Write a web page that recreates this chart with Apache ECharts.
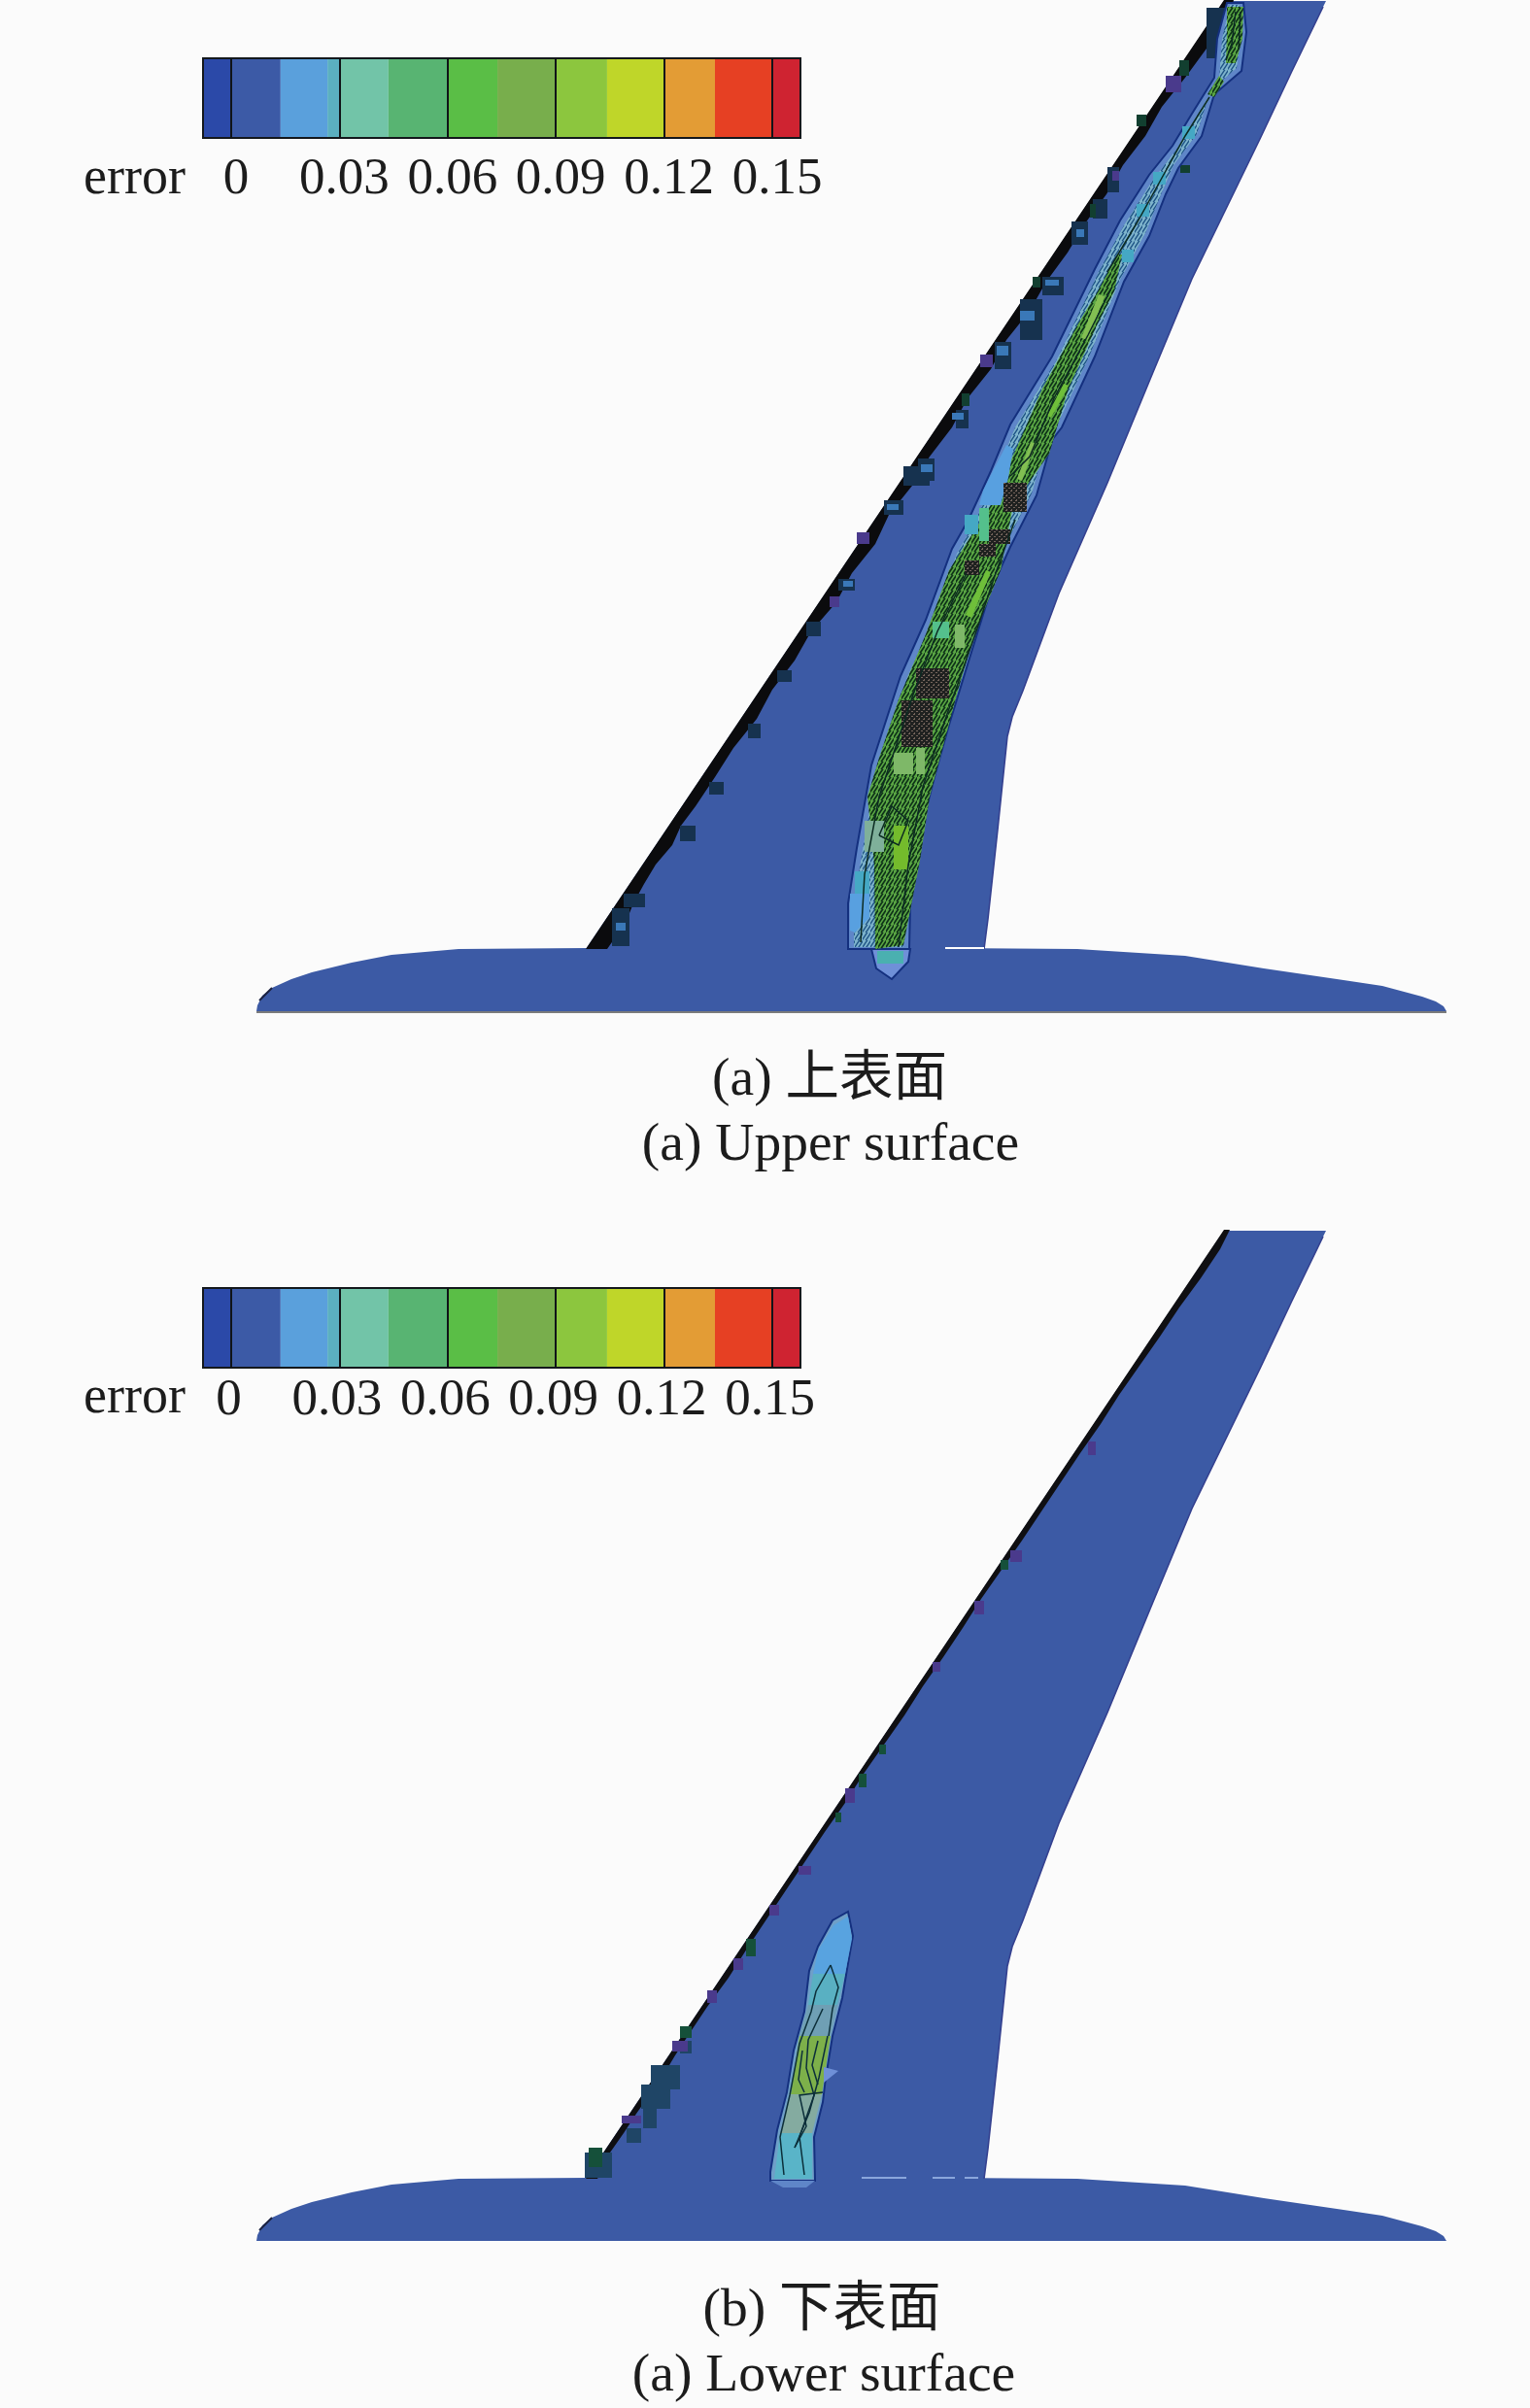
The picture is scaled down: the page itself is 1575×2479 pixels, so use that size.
<!DOCTYPE html>
<html><head><meta charset="utf-8">
<style>html,body{margin:0;padding:0;background:#fbfbfb}#c{width:1575px;height:2479px}</style>
<script src="https://cdn.jsdelivr.net/npm/echarts@6/dist/echarts.min.js"></script>
</head><body><div id="c"></div>
<script>
// ---------- colour bar data (error values) ----------
const errorTicks = [0, 0.03, 0.06, 0.09, 0.12, 0.15];
const bandEdges = [-0.0078, 0, 0.0137, 0.0267, 0.03, 0.0436, 0.06, 0.0738, 0.09, 0.1042, 0.12, 0.1341, 0.15, 0.1578];
const bandColors = ['#2b49a8','#3c5aa6','#5aa0dc','#5bafc0','#72c4a8','#58b472','#5abe46','#78ae4c','#8cc63e','#bfd629','#e39c35','#e64023','#cf2331'];
const captions = [['(a) 上表面', 854, 1116], ['(a) Upper surface', 855, 1183], ['(b) 下表面', 846, 2383], ['(a) Lower surface', 848, 2450]];

// ---------- planform outline (panel units: x chordwise, y down from wing tip) ----------
const fuselage = [[264,1041],[265,1035],[270,1025],[280,1017],[300,1008],[321,1001],[362,991],[403,983],[472,977],[603,976],[975,976],[1109,977],[1220,984],[1301,997],[1383,1009],[1423,1015],[1464,1026],[1478,1031],[1486,1036],[1489,1041]];
const wing = [[603,977],[1260,1],[1365,1],[1362,7],[1330,73],[1297,143],[1263,213],[1227,287],[1187,383],[1140,497],[1090,611],[1053,711],[1042,738],[1037,758],[1027,854],[1017,946],[1013,977]];
const trailingEdge = [[1362,7],[1330,73],[1297,143],[1263,213],[1227,287],[1187,383],[1140,497],[1090,611],[1053,711],[1042,738],[1037,758],[1027,854],[1017,946],[1013,977]];
const fuselageNoseEdge = [[267,1030],[280,1017]];

// ---------- leading edge error strips ----------
const upperLeStrip = [[603,977],[1260,0],[1270,0],[1264,20],[1242,50],[1220,80],[1196,110],[1179,140],[1156,170],[1139,200],[1117,230],[1099,260],[1077,290],[1060,320],[1036,350],[1020,380],[996,410],[980,440],[957,470],[939,500],[915,530],[901,560],[877,590],[861,620],[835,650],[818,680],[795,710],[779,740],[755,770],[736,800],[716,830],[701,850],[692,870],[675,890],[663,910],[652,930],[644,950],[625,977]];
const lowerLeStrip = [[603,977],[1260,0],[1266,0],[1256,20],[1236,50],[1214,80],[1194,110],[1173,140],[1152,170],[1133,200],[1112,230],[1092,260],[1072,290],[1052,320],[1031,350],[1010,380],[991,410],[971,440],[950,470],[931,500],[910,530],[889,560],[870,590],[849,620],[829,650],[809,680],[789,710],[769,740],[750,770],[728,800],[708,830],[695,850],[683,870],[669,890],[655,910],[642,930],[628,950],[615,977]];
const upperLeDarkBoxes = [[1242,8,1272,60],[1140,172,1152,198],[1125,205,1140,225],[1103,228,1120,252],[1073,285,1095,304],[1050,308,1073,350],[1024,352,1041,380],[984,422,997,441],[945,472,962,495],[930,480,957,500],[910,515,930,530],[863,596,880,608],[830,640,845,655],[800,690,815,702],[770,745,783,760],[730,805,745,818],[700,850,716,866],[630,935,648,974],[642,920,664,934]];
const upperLeSpecks = [[1076,288,1090,294],[1050,320,1065,330],[1026,356,1038,366],[980,425,992,432],[948,478,960,486],[868,598,878,604],[1108,236,1116,244],[634,950,644,958],[913,519,925,525]];
const upperLePurpleBoxes = [[1200,78,1216,95],[1009,365,1022,378],[882,548,895,560],[854,614,864,625],[1145,176,1152,186]];
const upperLeGreenBoxes = [[1214,62,1224,78],[1122,210,1128,224],[1063,285,1071,296],[1170,118,1180,130],[1215,170,1225,178],[990,405,998,418]];
const lowerLeTealBoxes = [[602,950,630,976],[660,880,690,905],[670,860,700,885],[662,905,676,925],[645,925,660,940],[700,835,712,848]];
const lowerLePurpleBoxes = [[640,912,660,920],[692,835,708,846],[728,783,738,796],[822,655,835,664],[870,575,880,590],[1003,382,1013,396],[1040,330,1052,342],[1120,218,1128,232],[755,750,765,762],[960,445,968,455],[792,695,802,706]];
const lowerLeGreenBoxes = [[606,945,620,965],[700,820,712,832],[768,730,778,748],[884,560,892,574],[1030,340,1038,350],[905,530,912,540],[860,600,866,610]];

// ---------- upper surface error contour ----------
const upperOuter = [[873,977],[873,930],[882,873],[897,788],[927,696],[953,638],[980,565],[997,535],[1020,485],[1040,437],[1083,367],[1127,277],[1153,227],[1183,180],[1207,150],[1227,117],[1250,80],[1253,40],[1263,3],[1280,3],[1283,33],[1278,73],[1250,97],[1237,140],[1213,173],[1200,200],[1183,243],[1157,290],[1127,367],[1093,440],[1083,453],[1067,510],[1040,563],[1020,607],[997,681],[977,746],[963,796],[948,854],[937,930],[936,977]];
const upperNub = [[897,977],[902,997],[918,1008],[935,990],[937,977]];
const upperMid = [[879,975],[879,930],[888,875],[903,790],[933,700],[958,642],[985,570],[1002,540],[1025,490],[1045,440],[1088,370],[1131,280],[1157,232],[1187,185],[1211,154],[1231,121],[1255,82],[1258,40],[1266,5],[1276,5],[1278,33],[1273,70],[1246,93],[1232,138],[1208,170],[1196,198],[1179,240],[1153,288],[1122,365],[1088,438],[1078,452],[1062,508],[1035,561],[1015,604],[992,678],[972,743],[958,793],[943,851],[932,930],[930,975]];
const upperGreen = [[901,977],[900,890],[893,820],[905,780],[925,720],[953,653],[977,587],[1020,520],[1050,453],[1073,400],[1110,333],[1130,300],[1150,262],[1155,262],[1147,300],[1130,333],[1100,400],[1080,467],[1043,520],[1030,587],[1003,653],[985,715],[957,820],[947,886],[930,973]];
const upperTipGreen = [[1263,7],[1280,7],[1279,40],[1272,65],[1262,65],[1263,30]];
const upperTipNeck = [[1243,97],[1255,78],[1260,84],[1250,100]];
const upperCore1 = [[1131,303],[1137,305],[1120,350],[1113,348]];
const upperCore2 = [[1061,455],[1066,457],[1052,495],[1047,493]];
const upperCore3 = [[1015,587],[1020,589],[1000,636],[994,633]];
const upperCore4 = [[1095,395],[1100,397],[1082,430],[1078,428]];
const upperLightBlue = [[1036,458],[1043,462],[1038,492],[1030,520],[1008,520],[1012,505],[1022,485]];
const upperLowerBlue = [[875,920],[895,920],[895,945],[880,960],[875,958]];
const upperNubFill = [[899,979],[904,995],[918,1005],[932,990],[934,979]];
const darkBoxes = [[1033,497,1057,527],[1018,545,1040,560],[1008,560,1025,573],[993,577,1008,592],[943,688,977,719],[928,721,960,769]];
const tealBoxes = [[1217,130,1230,143],[1187,177,1200,190],[1170,210,1183,223],[1155,257,1167,270],[993,530,1007,550],[880,897,895,920]];
const mintBoxes = [[1008,523,1018,557],[960,640,977,657]];
const paleGreenBoxes = [[983,643,993,667],[920,775,940,797],[943,770,952,797]];
const brightGreenBoxes = [[920,850,935,895]];
const greyGreenBoxes = [[890,845,910,877]];
const nubTealBoxes = [[903,979,930,992]];
const upperContours = [
  [[886,970],[890,900],[905,820],[925,760],[940,715],[965,650],[995,590]],
  [[925,975],[935,890],[950,810],[975,735],[1005,650],[1025,590],[1045,535]],
  [[905,860],[918,830],[935,845],[925,870],[905,860]],
  [[1040,490],[1060,470],[1085,410],[1120,345],[1145,295]],
  [[1272,12],[1268,45],[1262,62]],[[1277,12],[1275,50]],
  [[1245,100],[1220,140],[1195,185],[1170,230],[1140,280]]
];

// ---------- lower surface error contour ----------
const lowerOuter = [[793,979],[793,970],[800,927],[810,888],[817,845],[828,805],[833,763],[842,738],[857,711],[873,702],[878,727],[873,755],[867,791],[857,830],[850,873],[847,898],[838,934],[839,979]];
const lowerBlue = [[837,766],[842,742],[858,716],[873,707],[877,730],[870,766]];
const lowerTealUp = [[832,798],[837,766],[870,766],[862,798]];
const lowerGrey = [[823,830],[832,798],[862,798],[855,830]];
const lowerGreen = [[814,890],[823,830],[855,830],[846,890]];
const lowerMix = [[803,930],[814,890],[846,890],[836,930]];
const lowerTeal = [[797,977],[803,930],[836,930],[836,977]];
const lowerBump = [[848,862],[863,866],[848,878]];
const lowerFoot = [[793,979],[839,979],[830,986],[806,986]];
const lowerContours = [
  [[855,757],[840,784],[835,805],[823,838],[813,891],[803,934],[807,973]],
  [[855,757],[863,780],[857,802],[853,830]],
  [[847,802],[832,834],[830,863],[838,891],[823,934],[828,973]],
  [[818,945],[833,909],[843,873],[852,830]],
  [[847,888],[823,891],[830,923],[818,945]],
  [[842,835],[836,860],[842,880]],
  [[826,845],[822,875],[828,888]]
];
const rootSlitUpper = [[973,976],[1013,976]];
const rootSlitLower1 = [[887,976],[933,976]];
const rootSlitLower2 = [[960,976],[983,976]];
const rootSlitLower3 = [[993,976],[1007,976]];

// ---------- styles ----------
const SERIF = '"Liberation Serif","Noto Sans CJK SC",serif';
const BLUE = '#3c5aa5';
function hatch(bg, fg, w) {
  const c = document.createElement('canvas'); c.width = 8; c.height = 8;
  const g = c.getContext('2d');
  g.fillStyle = bg; g.fillRect(0,0,8,8);
  g.strokeStyle = fg; g.lineWidth = w;
  g.beginPath(); g.moveTo(-2,10); g.lineTo(6,-2); g.moveTo(2,10); g.lineTo(10,-2); g.stroke();
  return {image:c, repeat:'repeat'};
}
function dots(bg, fg) {
  const c = document.createElement('canvas'); c.width = 5; c.height = 5;
  const g = c.getContext('2d');
  g.fillStyle = bg; g.fillRect(0,0,5,5);
  g.fillStyle = fg; g.fillRect(0,0,2,1); g.fillRect(3,2,2,1); g.fillRect(1,4,1,1);
  return {image:c, repeat:'repeat'};
}
const greenHatch = hatch('#5aa644', '#0e3218', 1.7);
const steelHatch = hatch('#7eb4cc', '#1f5486', 1.4);
const darkDots = dots('#1f2120', '#75655c');

// ---------- series helpers ----------
function poly(panel, pts, style) {
  return {type:'custom', coordinateSystem:'cartesian2d', xAxisIndex:panel, yAxisIndex:panel, data:pts, silent:true, clip:false,
    renderItem(p, api){ if (p.dataIndex !== 0) return null;
      return {type:'polygon', shape:{points:pts.map(q=>api.coord(q))}, style:Object.assign({}, style)}; }};
}
function line(panel, pts, stroke, w) {
  return {type:'custom', coordinateSystem:'cartesian2d', xAxisIndex:panel, yAxisIndex:panel, data:pts, silent:true, clip:false,
    renderItem(p, api){ if (p.dataIndex !== 0) return null;
      return {type:'polyline', shape:{points:pts.map(q=>api.coord(q))}, style:{fill:null, stroke, lineWidth:w}}; }};
}
function boxes(panel, list, fill) {
  return {type:'custom', coordinateSystem:'cartesian2d', xAxisIndex:panel, yAxisIndex:panel, data:list, silent:true, clip:false,
    renderItem(p, api){
      const a = api.coord([api.value(0), api.value(1)]), b = api.coord([api.value(2), api.value(3)]);
      return {type:'rect', shape:{x:a[0], y:a[1], width:b[0]-a[0], height:b[1]-a[1]}, style:{fill}}; }};
}
function colorBar(idx) {
  const rows = bandColors.map((c,i)=>[bandEdges[i], bandEdges[i+1], i]);
  return [{type:'custom', coordinateSystem:'cartesian2d', xAxisIndex:idx, yAxisIndex:idx, data:rows, silent:true,
    renderItem(p, api){
      const a = api.coord([api.value(0), 1]), b = api.coord([api.value(1), 0]);
      return {type:'rect', shape:{x:a[0], y:a[1], width:b[0]-a[0], height:b[1]-a[1]}, style:{fill:bandColors[api.value(2)]}}; }},
   {type:'custom', coordinateSystem:'cartesian2d', xAxisIndex:idx, yAxisIndex:idx, data:[[bandEdges[0], bandEdges[bandEdges.length-1]]], silent:true, z:6,
    renderItem(p, api){
      const a = api.coord([api.value(0), 1]), b = api.coord([api.value(1), 0]);
      return {type:'rect', shape:{x:a[0], y:a[1], width:b[0]-a[0], height:b[1]-a[1]}, style:{fill:null, stroke:'#14181c', lineWidth:2}}; }}];
}

const series = [];
// Upper panel
series.push(poly(0, fuselage, {fill:BLUE}), poly(0, wing, {fill:BLUE}));
series.push(line(0, trailingEdge, '#34408f', 1.6), line(0, fuselageNoseEdge, '#1c2240', 2));
series.push(poly(0, upperLeStrip, {fill:'#0b0b0d'}));
series.push(boxes(0, upperLeDarkBoxes, '#16324f'), boxes(0, upperLeSpecks, '#3a78b8'), boxes(0, upperLePurpleBoxes, '#4a3a8c'), boxes(0, upperLeGreenBoxes, '#123f30'));
series.push(poly(0, upperOuter, {fill:'#5f86c8', stroke:'#14307f', lineWidth:2}));
series.push(poly(0, upperNub, {fill:'#6f90d8', stroke:'#14307f', lineWidth:2}));
series.push(poly(0, upperMid, {fill:steelHatch}));
series.push(poly(0, upperGreen, {fill:greenHatch}), poly(0, upperTipGreen, {fill:greenHatch}), poly(0, upperTipNeck, {fill:greenHatch}));
series.push(poly(0, upperLightBlue, {fill:'#58a0e0'}), poly(0, upperLowerBlue, {fill:'#58a0e0'}));
series.push(poly(0, upperCore1, {fill:'#82bf52'}), poly(0, upperCore2, {fill:'#82bf52'}), poly(0, upperCore3, {fill:'#6fbf3a'}), poly(0, upperCore4, {fill:'#6fbf3a'}));
series.push(boxes(0, tealBoxes, '#45a8c4'), boxes(0, mintBoxes, '#54c08c'), boxes(0, paleGreenBoxes, '#7eb868'), boxes(0, brightGreenBoxes, '#74bb2c'), boxes(0, greyGreenBoxes, '#7fb09a'));
series.push(boxes(0, darkBoxes, darkDots));
upperContours.forEach(c => series.push(line(0, c, '#0c2b22', 1.5)));
series.push(poly(0, upperNubFill, {fill:'#6f90d8'}), boxes(0, nubTealBoxes, '#4ab0b0'));
series.push(line(0, rootSlitUpper, '#ffffff', 2));
series.push(line(0, [[264,1042],[1489,1042]], '#7b7b7b', 2));
// Lower panel
series.push(poly(1, fuselage, {fill:BLUE}), poly(1, wing, {fill:BLUE}));
series.push(line(1, trailingEdge, '#34408f', 1.6), line(1, fuselageNoseEdge, '#1c2240', 2));
series.push(poly(1, lowerLeStrip, {fill:'#0f0f12'}));
series.push(boxes(1, lowerLeTealBoxes, '#1f4566'), boxes(1, lowerLePurpleBoxes, '#4a3a8c'), boxes(1, lowerLeGreenBoxes, '#15503a'));
series.push(poly(1, lowerOuter, {fill:'#6f9fc8', stroke:'#14307f', lineWidth:2}));
series.push(poly(1, lowerBlue, {fill:'#58a3e0'}), poly(1, lowerTealUp, {fill:'#59b0c2'}), poly(1, lowerGrey, {fill:'#6f9fb4'}));
series.push(poly(1, lowerGreen, {fill:'#7db04a'}), poly(1, lowerMix, {fill:'#84aba0'}), poly(1, lowerTeal, {fill:'#59b4c8'}));
series.push(poly(1, lowerBump, {fill:'#6f90d8'}), poly(1, lowerFoot, {fill:'#5f86c8'}));
lowerContours.forEach(c => series.push(line(1, c, '#0c2f3a', 1.5)));
series.push(line(1, rootSlitLower1, '#8aa6dc', 2), line(1, rootSlitLower2, '#8aa6dc', 2), line(1, rootSlitLower3, '#8aa6dc', 2));
// Colour bars
series.push(...colorBar(2), ...colorBar(3));

function panelX(i){ return {gridIndex:i, type:'value', min:0, max:1575, show:false}; }
function panelY(i){ return {gridIndex:i, type:'value', min:0, max:1042, inverse:true, show:false}; }
function barX(i, padding, margin){
  return {gridIndex:i, type:'value', min:bandEdges[0], max:bandEdges[bandEdges.length-1], z:7,
    axisLine:{show:false}, splitLine:{show:false},
    axisTick:{show:true, inside:true, length:82, customValues:errorTicks, lineStyle:{color:'#101418', width:2}},
    axisLabel:{show:true, customValues:errorTicks, color:'#1c1c1c', fontFamily:SERIF, fontSize:53, margin, padding,
      showMinLabel:true, showMaxLabel:true, hideOverlap:false, formatter:v=>String(v)}};
}
function barY(i){ return {gridIndex:i, type:'value', min:0, max:1, show:false}; }

const titles = captions.map(c => ({text:c[0], left:c[1], top:c[2]-31, textAlign:'center', padding:0,
  textStyle:{fontFamily:SERIF, fontSize:55.5, fontWeight:'normal', color:'#1c1c1c'}}));
titles.push({text:'error', left:86, top:158, padding:0, textStyle:{fontFamily:SERIF, fontSize:54, fontWeight:'normal', color:'#1c1c1c'}});
titles.push({text:'error', left:86, top:1413, padding:0, textStyle:{fontFamily:SERIF, fontSize:54, fontWeight:'normal', color:'#1c1c1c'}});

const chart = echarts.init(document.getElementById('c'), null, {renderer:'canvas', width:1575, height:2479});
chart.setOption({
  animation:false, backgroundColor:'#fbfbfb', tooltip:{show:false},
  title:titles,
  grid:[
    {left:0, width:1575, top:0, height:1042},
    {left:0, width:1575, top:1266, height:1042},
    {left:209, width:615, top:60, height:82},
    {left:209, width:615, top:1326, height:82}
  ],
  xAxis:[panelX(0), panelX(1), barX(2,[0,0,0,10],17), barX(3,[0,5,0,0],8)],
  yAxis:[panelY(0), panelY(1), barY(2), barY(3)],
  series
});
</script></body></html>
